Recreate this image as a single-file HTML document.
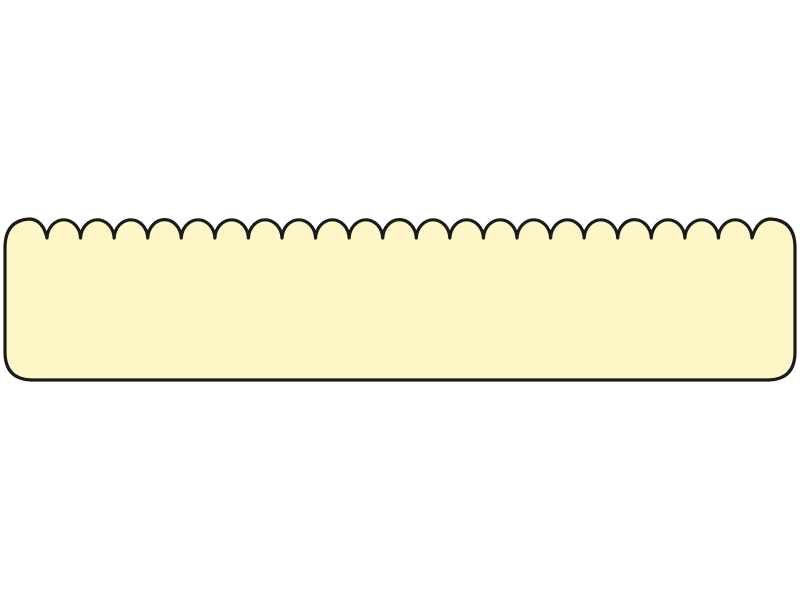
<!DOCTYPE html>
<html><head><meta charset="utf-8"><style>html,body{margin:0;padding:0;background:#fff;width:800px;height:600px;overflow:hidden}</style></head>
<body>
<svg width="800" height="600" xmlns="http://www.w3.org/2000/svg">
<path id="p" fill="#fef6c6" stroke="#1a1a1a" stroke-width="3.2" stroke-linejoin="round"/>
</svg>
<script>
var d="M5 352 L5 248 Q5 220 30 219 Q43 220 47 238 ";
var x0=47,x1=752,n=21,s=(x1-x0)/n;
for(var i=1;i<=n;i++){var x=x0+s*i;d+="A16.8 19 0 0 1 "+x.toFixed(2)+" 238 ";}
d+="Q757 220 770 219 Q795 220 795 248 L795 352 Q795 380 767 380 L33 380 Q5 380 5 352 Z";
document.getElementById("p").setAttribute("d",d);
</script>
</body></html>
